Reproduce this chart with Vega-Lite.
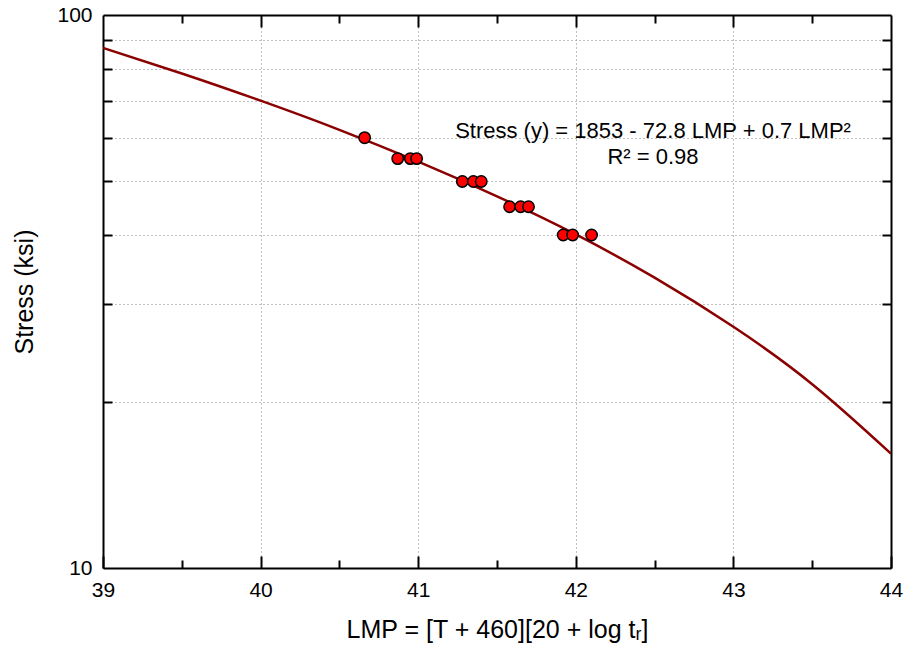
{
  "$schema": "https://vega.github.io/schema/vega-lite/v6.json",
  "width": 788,
  "height": 553,
  "autosize": {"type": "none"},
  "padding": {"left": 103, "top": 15, "right": 14, "bottom": 90},
  "background": "white",
  "config": {
    "view": {"stroke": null},
    "font": "Liberation Sans",
    "axis": {
      "labelFont": "Liberation Sans",
      "titleFont": "Liberation Sans",
      "labelColor": "black",
      "titleColor": "black",
      "tickColor": "black",
      "domainColor": "black",
      "tickWidth": 2,
      "domainWidth": 2,
      "gridColor": "#808080",
      "gridDash": [1, 3],
      "gridWidth": 1,
      "titleFontWeight": "normal",
      "labelFlush": false
    }
  },
  "datasets": {
    "curve": [
      {"LMP": 39.0, "Stress": 87.2},
      {"LMP": 39.5, "Stress": 78.4},
      {"LMP": 40.0, "Stress": 70.0},
      {"LMP": 40.5, "Stress": 62.0},
      {"LMP": 41.0, "Stress": 54.3},
      {"LMP": 41.5, "Stress": 47.0},
      {"LMP": 42.0, "Stress": 40.1},
      {"LMP": 42.5, "Stress": 33.5},
      {"LMP": 43.0, "Stress": 27.3},
      {"LMP": 43.5, "Stress": 21.5},
      {"LMP": 44.0, "Stress": 16.1}
    ],
    "points": [
      {"LMP": 40.66, "Stress": 60},
      {"LMP": 40.87, "Stress": 55},
      {"LMP": 40.95, "Stress": 55},
      {"LMP": 40.99, "Stress": 55},
      {"LMP": 41.28, "Stress": 50},
      {"LMP": 41.35, "Stress": 50},
      {"LMP": 41.40, "Stress": 50},
      {"LMP": 41.58, "Stress": 45},
      {"LMP": 41.65, "Stress": 45},
      {"LMP": 41.70, "Stress": 45},
      {"LMP": 41.92, "Stress": 40},
      {"LMP": 41.98, "Stress": 40},
      {"LMP": 42.10, "Stress": 40}
    ],
    "eq": [
      {"LMP": 42.49, "Stress": 61.7, "label": "Stress (y) = 1853 - 72.8 LMP + 0.7 LMP²"}
    ],
    "r2": [
      {"LMP": 42.49, "Stress": 55.4, "label": "R² = 0.98"}
    ]
  },
  "layer": [
    {
      "data": {"name": "curve"},
      "mark": {"type": "line", "color": "#8b0000", "strokeWidth": 2.5, "interpolate": "natural", "clip": true},
      "encoding": {
        "x": {
          "field": "LMP", "type": "quantitative",
          "scale": {"domain": [39, 44], "nice": false, "zero": false},
          "axis": {
            "orient": "bottom", "values": [39, 40, 41, 42, 43, 44], "format": "d",
            "tickSize": -12, "labelPadding": 23, "labelFontSize": 21,
            "grid": false, "domain": true,
            "title": "LMP = [T + 460][20 + log tᵣ]", "titleFontSize": 25, "titlePadding": 17
          }
        },
        "y": {
          "field": "Stress", "type": "quantitative",
          "scale": {"type": "log", "domain": [10, 100], "nice": false},
          "axis": {
            "orient": "left", "values": [10, 100], "format": "d",
            "ticks": false, "labelPadding": 11, "labelFontSize": 21,
            "grid": false, "domain": true,
            "title": "Stress (ksi)", "titleFontSize": 25, "titlePadding": 19
          }
        }
      }
    },
    {
      "data": {"name": "points"},
      "mark": {"type": "point", "shape": "circle", "filled": true, "fill": "#ff0000", "stroke": "black", "strokeWidth": 1.5, "size": 130, "opacity": 1},
      "encoding": {
        "x": {
          "field": "LMP", "type": "quantitative",
          "scale": {"domain": [39, 44], "nice": false, "zero": false},
          "axis": {
            "orient": "bottom", "values": [39.5, 40.5, 41.5, 42.5, 43.5],
            "tickSize": -8, "labels": false, "grid": false, "domain": false, "title": null
          }
        },
        "y": {
          "field": "Stress", "type": "quantitative",
          "scale": {"type": "log", "domain": [10, 100], "nice": false},
          "axis": {
            "orient": "left", "values": [20, 30, 40, 50, 60, 70, 80, 90],
            "tickSize": -9, "labels": false, "grid": true, "domain": false, "title": null
          }
        }
      }
    },
    {
      "data": {"name": "eq"},
      "mark": {"type": "text", "fontSize": 22, "align": "center", "baseline": "middle", "color": "black"},
      "encoding": {
        "text": {"field": "label"},
        "x": {
          "field": "LMP", "type": "quantitative",
          "scale": {"domain": [39, 44], "nice": false, "zero": false},
          "axis": {
            "orient": "top", "values": [40, 41, 42, 43],
            "tickSize": -12, "labels": false, "grid": true, "domain": true, "title": null
          }
        },
        "y": {
          "field": "Stress", "type": "quantitative",
          "scale": {"type": "log", "domain": [10, 100], "nice": false},
          "axis": {
            "orient": "right", "values": [20, 30, 40, 50, 60, 70, 80, 90],
            "tickSize": -9, "labels": false, "grid": false, "domain": true, "title": null
          }
        }
      }
    },
    {
      "data": {"name": "r2"},
      "mark": {"type": "text", "fontSize": 22, "align": "center", "baseline": "middle", "color": "black"},
      "encoding": {
        "text": {"field": "label"},
        "x": {
          "field": "LMP", "type": "quantitative",
          "scale": {"domain": [39, 44], "nice": false, "zero": false},
          "axis": {
            "orient": "top", "values": [39.5, 40.5, 41.5, 42.5, 43.5],
            "tickSize": -8, "labels": false, "grid": false, "domain": false, "title": null
          }
        },
        "y": {
          "field": "Stress", "type": "quantitative",
          "scale": {"type": "log", "domain": [10, 100], "nice": false},
          "axis": null
        }
      }
    }
  ],
  "resolve": {"axis": {"x": "independent", "y": "independent"}}
}
